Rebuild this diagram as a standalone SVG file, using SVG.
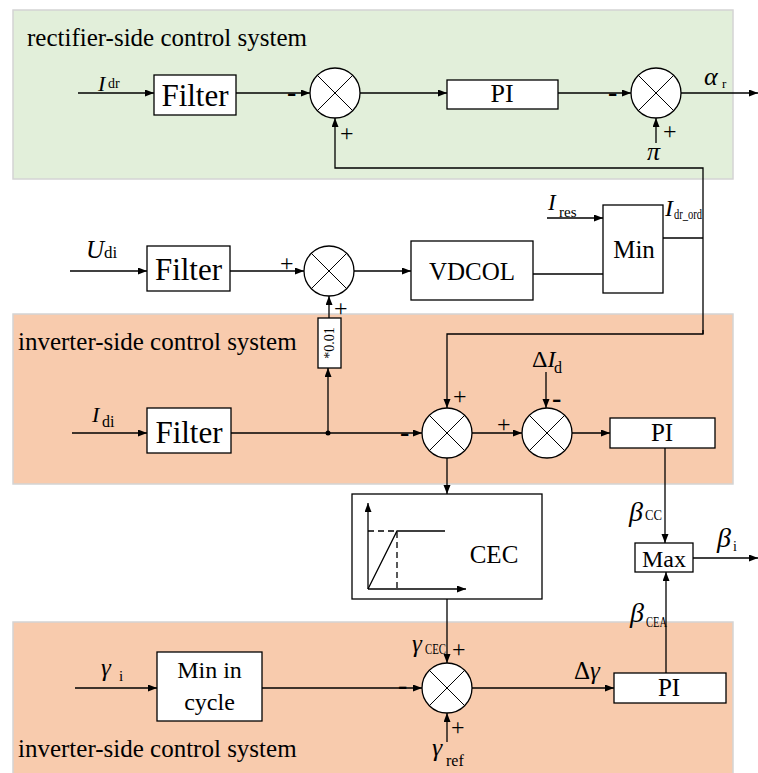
<svg xmlns="http://www.w3.org/2000/svg" width="758" height="773" viewBox="0 0 758 773" font-family="'Liberation Serif', 'Times New Roman', serif">
<defs>
<marker id="arr" markerWidth="10" markerHeight="8" refX="9" refY="3.5" orient="auto" markerUnits="userSpaceOnUse"><path d="M0,0 L9,3.5 L0,7 z" fill="#000"/></marker>
<style>
.pg{fill:#E2EFDA;stroke:#D4D4D4;stroke-width:1.5}
.po{fill:#F8CBAD;stroke:#D4D4D4;stroke-width:1.5}
.box{fill:#fff;stroke:#000;stroke-width:1.3}
.sum circle{fill:#fff;stroke:#000;stroke-width:1.3}
.sum path{fill:none;stroke:#000;stroke-width:1}
.w{fill:none;stroke:#000;stroke-width:1.3;marker-end:url(#arr)}
.p{fill:none;stroke:#000;stroke-width:1.3}
.d{fill:none;stroke:#000;stroke-width:1.3;stroke-dasharray:6,4}
text{font-family:'Liberation Serif','Times New Roman',serif;fill:#000}
.t{text-anchor:middle}
.i{font-style:italic}
.s{font-style:normal}
.sg{font-size:24px}
.mn{font-size:28px;font-weight:bold}
</style>
</defs>

<g id="panels">
<rect class="pg" x="13" y="10" width="720" height="169"/>
<rect class="po" x="13" y="314" width="720" height="170"/>
<rect class="po" x="13" y="622" width="720" height="160"/>
<text x="27" y="46" font-size="25">rectifier-side control system</text>
<text x="18" y="350" font-size="25">inverter-side control system</text>
<text x="18" y="757" font-size="25">inverter-side control system</text>
</g>

<g id="connectors">
<path class="w" d="M78,93 H154"/>
<path class="w" d="M236,93 H310"/>
<path class="w" d="M360,93 H447"/>
<path class="w" d="M558,93 H631"/>
<path class="w" d="M656,143 V118"/>
<path class="w" d="M681,93 H758"/>
<path class="p" d="M663,238 H703"/>
<path class="w" d="M703,334 V168 H335 V118"/>
<path class="w" d="M703,330 V334 H447 V408"/>
<path class="w" d="M70,271 H147"/>
<path class="w" d="M230,271 H304"/>
<path class="w" d="M354,271 H411"/>
<path class="p" d="M533,274 H603"/>
<path class="w" d="M547,218 H603"/>
<path class="w" d="M329,318 V296"/>
<path class="w" d="M328,433 V368"/>
<path class="w" d="M72,433 H147"/>
<path class="w" d="M231,433 H422"/>
<path class="w" d="M472,433 H522"/>
<path class="w" d="M546,372 V408"/>
<path class="w" d="M572,433 H610"/>
<path class="w" d="M447,458 V494"/>
<path class="w" d="M665,448 V543"/>
<path class="w" d="M693,558 H758"/>
<path class="w" d="M447,599 V663"/>
<path class="w" d="M75,688 H157"/>
<path class="w" d="M262,688 H422"/>
<path class="w" d="M447,742 V713"/>
<path class="w" d="M472,688 H614"/>
<path class="w" d="M666,673 V572"/>
<circle cx="328" cy="433" r="2.5" fill="#000"/>
</g>

<g id="filter1"><rect class="box" x="154" y="75" width="82" height="40"/><text class="t" x="195" y="106" font-size="31">Filter</text></g>
<g id="filter2"><rect class="box" x="147" y="246" width="83" height="45"/><text class="t" x="188.5" y="280" font-size="31">Filter</text></g>
<g id="filter3"><rect class="box" x="147" y="408" width="84" height="45"/><text class="t" x="189" y="443" font-size="31">Filter</text></g>
<g id="pi1"><rect class="box" x="447" y="80" width="111" height="29"/><text class="t" x="502" y="102" font-size="26">PI</text></g>
<g id="vdcol"><rect class="box" x="411" y="241" width="122" height="59"/><text class="t" x="472" y="280" font-size="25">VDCOL</text></g>
<g id="min"><rect class="box" x="603" y="205" width="60" height="88"/><text class="t" x="634" y="258" font-size="25">Min</text></g>
<g id="gain"><rect class="box" x="318" y="318" width="23" height="50"/><text class="t" transform="translate(334,343) rotate(-90)" font-size="14">*0.01</text></g>
<g id="pi2"><rect class="box" x="610" y="418" width="105" height="30"/><text class="t" x="662" y="441" font-size="25">PI</text></g>
<g id="cec"><rect class="box" x="352" y="494" width="190" height="105"/>
<path class="w" d="M368,589 V503"/><path class="w" d="M368,589 H466"/>
<path class="p" d="M368,589 L397,531 H445"/><path class="d" d="M368,531 H397 V589"/>
<text class="t" x="494" y="563" font-size="25">CEC</text></g>
<g id="max"><rect class="box" x="635" y="543" width="58" height="29"/><text class="t" x="664" y="567" font-size="24">Max</text></g>
<g id="mincycle"><rect class="box" x="157" y="652" width="105" height="69"/><text class="t" x="209.5" y="678" font-size="24">Min in</text><text class="t" x="209.5" y="710" font-size="24">cycle</text></g>
<g id="pi3"><rect class="box" x="614" y="673" width="112" height="30"/><text class="t" x="669" y="696" font-size="25">PI</text></g>

<g id="sum1" class="sum"><circle cx="335" cy="93" r="25"/><path d="M317.3,75.3 L352.7,110.7 M352.7,75.3 L317.3,110.7"/></g>
<g id="sum2" class="sum"><circle cx="656" cy="93" r="25"/><path d="M638.3,75.3 L673.7,110.7 M673.7,75.3 L638.3,110.7"/></g>
<g id="sum3" class="sum"><circle cx="329" cy="271" r="25"/><path d="M311.3,253.3 L346.7,288.7 M346.7,253.3 L311.3,288.7"/></g>
<g id="sum4" class="sum"><circle cx="447" cy="433" r="25"/><path d="M429.3,415.3 L464.7,450.7 M464.7,415.3 L429.3,450.7"/></g>
<g id="sum5" class="sum"><circle cx="547" cy="433" r="25"/><path d="M529.3,415.3 L564.7,450.7 M564.7,415.3 L529.3,450.7"/></g>
<g id="sum6" class="sum"><circle cx="447" cy="688" r="25"/><path d="M429.3,670.3 L464.7,705.7 M464.7,670.3 L429.3,705.7"/></g>

<g id="labels">
<text x="98" y="91" font-size="22" class="i">I<tspan class="s" x="108" y="88" font-size="14">dr</tspan></text>
<text x="704" y="85" font-size="26" class="i">α<tspan class="s" x="722" y="88" font-size="13">r</tspan></text>
<text x="647" y="160" font-size="26" class="i">π</text>
<text x="86" y="258" font-size="25" class="i">U<tspan class="s" x="104" y="258" font-size="17">di</tspan></text>
<text x="548" y="210" font-size="23" class="i">I<tspan class="s" x="559" y="217" font-size="15">res</tspan></text>
<text x="665" y="216" font-size="24" class="i">I<tspan class="s" x="674" y="219" font-size="14" textLength="28" lengthAdjust="spacingAndGlyphs">dr_ord</tspan></text>
<text x="92" y="422" font-size="22" class="i">I<tspan class="s" x="102" y="427" font-size="16">di</tspan></text>
<text x="532" y="367" font-size="24">Δ<tspan class="i">I</tspan><tspan x="554" y="373" font-size="16">d</tspan></text>
<text x="629" y="521" font-size="28" class="i">β<tspan class="s" x="645" y="520" font-size="14" textLength="17" lengthAdjust="spacingAndGlyphs">CC</tspan></text>
<text x="717" y="547" font-size="28" class="i">β<tspan class="s" x="733" y="551" font-size="14">i</tspan></text>
<text x="630" y="622" font-size="28" class="i">β<tspan class="s" x="646" y="627" font-size="14" textLength="21" lengthAdjust="spacingAndGlyphs">CEA</tspan></text>
<text x="101" y="676" font-size="25" class="i">γ<tspan class="s" x="119" y="681" font-size="15">i</tspan></text>
<text x="412" y="652" font-size="25" class="i">γ<tspan class="s" x="425" y="654" font-size="14" textLength="21" lengthAdjust="spacingAndGlyphs">CEC</tspan></text>
<text x="432" y="756" font-size="26" class="i">γ<tspan class="s" x="446" y="766" font-size="16">ref</tspan></text>
<text x="574" y="679" font-size="25">Δ<tspan class="i">γ</tspan></text>
</g>

<g id="signs">
<text class="mn" x="287" y="101">-</text>
<text class="sg" x="340" y="141">+</text>
<text class="mn" x="608" y="101">-</text>
<text class="sg" x="663" y="139">+</text>
<text class="sg" x="280" y="271">+</text>
<text class="sg" x="334" y="316">+</text>
<text class="mn" x="400" y="441">-</text>
<text class="sg" x="453" y="404">+</text>
<text class="sg" x="497" y="432">+</text>
<text class="mn" x="552" y="407">-</text>
<text class="sg" x="452" y="657">+</text>
<text class="mn" x="398" y="694">-</text>
<text class="sg" x="451" y="735">+</text>
</g>
</svg>
